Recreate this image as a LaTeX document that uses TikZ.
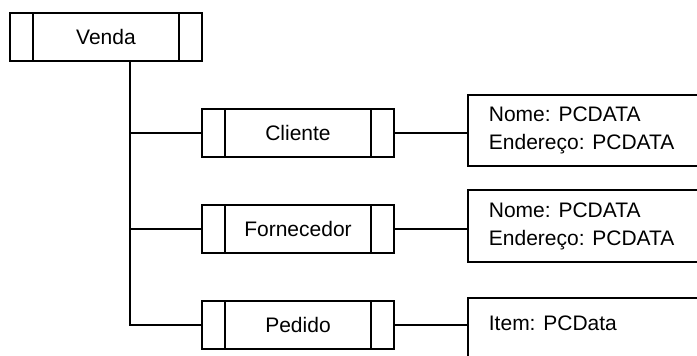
\documentclass[tikz,border=0pt]{standalone}
\usepackage{fontspec}
\setmainfont{Liberation Sans}
\begin{document}
\begin{tikzpicture}[x=1pt, y=-1pt, line width=1.8pt,
  every node/.style={font=\fontsize{21}{28}\selectfont},
  entity/.style={draw, minimum width=192pt, minimum height=48pt, inner sep=0pt,
    path picture={
      \draw ([xshift=23pt]path picture bounding box.north west) -- ([xshift=23pt]path picture bounding box.south west);
      \draw ([xshift=-23pt]path picture bounding box.north east) -- ([xshift=-23pt]path picture bounding box.south east);
    }},
  attrbox/.style={draw, minimum width=250pt, inner sep=0pt, anchor=north west},
  attrtext/.style={align=left, inner sep=0pt}
]
\useasboundingbox (0,0) rectangle (697,356);
\clip (0,0) rectangle (697,356);

% element boxes
\node[entity] (venda) at (106,37) {Venda};
\node[entity] (cliente) at (298,133) {Cliente};
\node[entity] (fornecedor) at (298,229) {Fornecedor};
\node[entity] (pedido) at (298,325) {Pedido};

% attribute boxes
\node[attrbox, minimum height=71pt] (clattr) at (467,94) {};
\node[attrtext, anchor=west] (cltext) at ([xshift=21pt]clattr.west) {Nome: PCDATA\\Endereço: PCDATA};
\node[attrbox, minimum height=72pt] (foattr) at (467,189) {};
\node[attrtext, anchor=west] (fotext) at ([xshift=21pt]foattr.west) {Nome: PCDATA\\Endereço: PCDATA};
\node[attrbox, minimum height=80pt] (peattr) at (467,297) {};
\node[attrtext, anchor=base west] (petext) at ([xshift=21pt, yshift=-33pt]peattr.north west) {Item: PCData};

% tree connectors
\coordinate (trunk) at ([xshift=24pt]venda.south);
\draw (trunk) |- (pedido.west);
\draw (cliente.west) -- (cliente.west -| trunk);
\draw (fornecedor.west) -- (fornecedor.west -| trunk);

% attribute connectors
\draw (cliente.east) -- (cliente.east -| clattr.west);
\draw (fornecedor.east) -- (fornecedor.east -| foattr.west);
\draw (pedido.east) -- (pedido.east -| peattr.west);
\end{tikzpicture}
\end{document}
